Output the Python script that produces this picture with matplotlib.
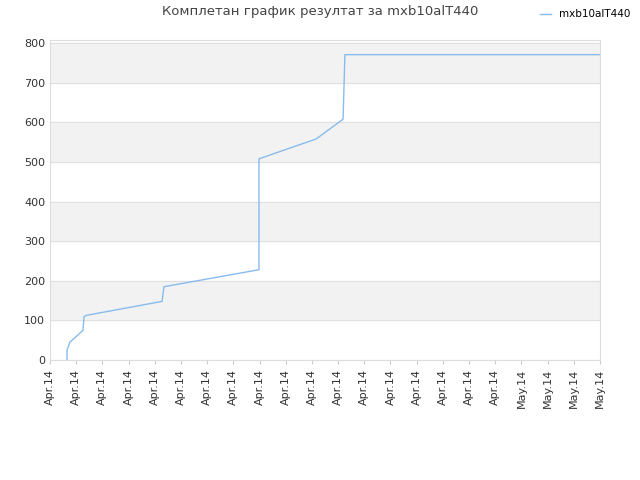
import matplotlib.pyplot as plt

tick_labels = ["Apr.14"] * 18 + ["May.14"] * 4
x_vals = [0.65, 0.65, 0.76, 1.26, 1.30, 1.41, 4.28, 4.35, 7.98, 7.98, 10.16, 11.19, 11.26, 21.0]
y_vals = [0, 25, 45, 75, 110, 113, 148, 185, 228, 508, 558, 608, 771, 771]

fig = plt.figure(figsize=(6.4, 4.8), dpi=100)
ax = fig.add_axes([50 / 640, 1 - 360 / 480, 550 / 640, 320 / 480])
for lo in range(100, 800, 200):
    ax.axhspan(lo, lo + 100, color="#f2f2f2", zorder=0)
for yv in range(0, 900, 100):
    ax.axhline(yv, color="#e0e0e0", lw=0.8, zorder=0.5)
ax.plot(x_vals, y_vals, color="#88bbee", lw=1, label="mxb10alT440")
ax.set_xlim(0, 21)
ax.set_ylim(0, 808)
ax.set_xticks(range(len(tick_labels)))
ax.set_xticklabels(tick_labels, rotation=90, fontsize=8, color="#333333")
ax.set_yticks(range(0, 900, 100))
ax.tick_params(axis="y", labelsize=8, colors="#333333", length=0)
ax.tick_params(axis="x", length=3, color="#cccccc")
for s in ax.spines.values():
    s.set_color("#dddddd")
fig.text(0.5, 1 - 12 / 480, "Комплетан график резултат за mxb10alT440", ha="center",
         va="center", fontsize=9.5, color="#444444")
fig.legend(loc="upper right", bbox_to_anchor=(1.0, 1.0), frameon=False, fontsize=7.5,
           handlelength=1)
fig.savefig("out.png")
